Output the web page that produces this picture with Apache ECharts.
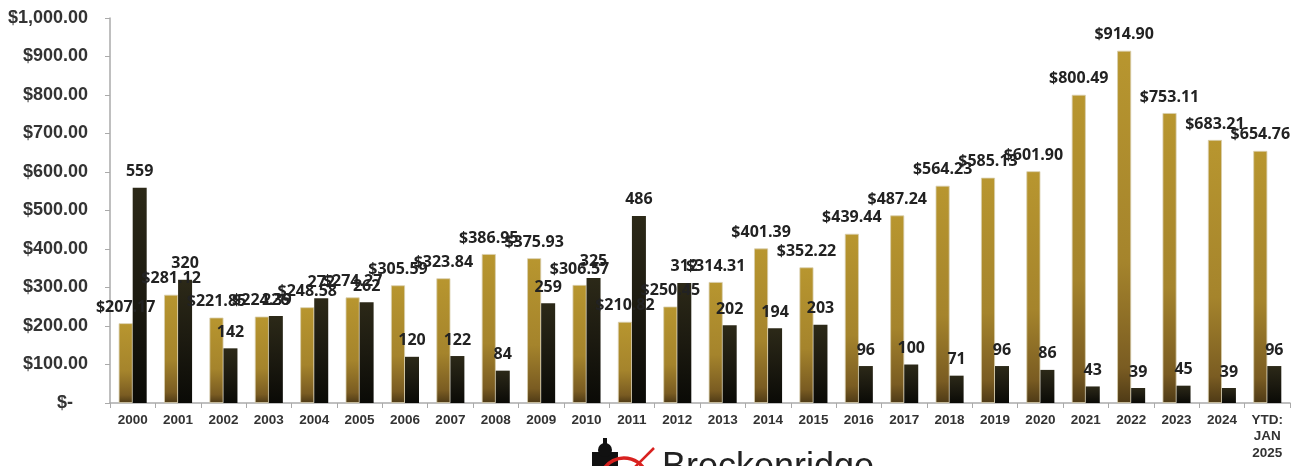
<!DOCTYPE html>
<html>
<head>
<meta charset="utf-8">
<script src="https://cdn.jsdelivr.net/npm/echarts@6/dist/echarts.min.js"></script>
<style>
  html, body { margin: 0; padding: 0; background: #fff; }
  #chart { width: 1303px; height: 466px; }
</style>
</head>
<body>
<div id="chart"></div>
<script>
// yearly price vs. count

var years = ['2000', '2001', '2002', '2003', '2004', '2005', '2006', '2007', '2008', '2009',
  '2010', '2011', '2012', '2013', '2014', '2015', '2016', '2017', '2018', '2019',
  '2020', '2021', '2022', '2023', '2024', 'YTD:\nJAN\n2025'];

var prices = [207.17, 281.12, 221.85, 224.39, 248.58, 274.27, 305.59, 323.84, 386.95, 375.93,
  306.57, 210.82, 250.45, 314.31, 401.39, 352.22, 439.44, 487.24, 564.23, 585.13,
  601.90, 800.49, 914.90, 753.11, 683.21, 654.76];

var counts = [559, 320, 142, 226, 272, 262, 120, 122, 84, 259,
  325, 486, 312, 202, 194, 203, 96, 100, 71, 96,
  86, 43, 39, 45, 39, 96];

var yTicks = [0, 100, 200, 300, 400, 500, 600, 700, 800, 900, 1000];

var dom = document.getElementById('chart');
var myChart = echarts.init(dom);

function money(v) {
  if (v === 0) return '$-   ';
  return '$' + v.toFixed(2).replace(/\B(?=(\d{3})+(?!\d))/g, ',');
}

var labelStyle = {
  show: true,
  position: 'top',
  distance: 8,
  fontFamily: 'Open Sans',
  fontWeight: 'bold',
  fontSize: 16,
  color: '#222'
};

var option = {
  animation: false,
  grid: { left: 110, right: 13, top: 18, bottom: 63 },
  xAxis: {
    type: 'category',
    data: years,
    axisLine: { lineStyle: { color: '#aaa', width: 1.5 } },
    axisTick: { show: true, alignWithLabel: false, length: 5, lineStyle: { color: '#aaa' } },
    axisLabel: {
      interval: 0,
      margin: 9,
      fontFamily: 'Liberation Sans',
      fontWeight: 'bold',
      fontSize: 13.5,
      lineHeight: 16.5,
      color: '#333'
    }
  },
  yAxis: {
    type: 'value',
    min: yTicks[0],
    max: yTicks[yTicks.length - 1],
    interval: 100,
    splitLine: { show: false },
    axisLine: { show: true, lineStyle: { color: '#aaa', width: 1.5 } },
    axisTick: { show: true, inside: false, length: 5, lineStyle: { color: '#aaa' } },
    axisLabel: {
      margin: 22,
      formatter: money,
      fontFamily: 'Liberation Sans',
      fontWeight: 'bold',
      fontSize: 18,
      color: '#333'
    }
  },
  series: [
    {
      name: 'Price',
      type: 'bar',
      data: prices,
      barWidth: 14,
      barGap: '0%',
      itemStyle: {
        borderColor: '#d9cfae',
        borderWidth: 0.8,
        color: new echarts.graphic.LinearGradient(0, 0, 0, 1, [
          { offset: 0, color: '#b8962f' },
          { offset: 0.6, color: '#a5842c' },
          { offset: 0.9, color: '#7a5c22' },
          { offset: 1, color: '#4e3a16' }
        ])
      },
      label: Object.assign({}, labelStyle, { formatter: function (p) { return money(p.value); } })
    },
    {
      name: 'Count',
      type: 'bar',
      data: counts,
      barWidth: 14,
      itemStyle: {
        color: new echarts.graphic.LinearGradient(0, 0, 0, 1, [
          { offset: 0, color: '#2c2918' },
          { offset: 0.5, color: '#1c1a10' },
          { offset: 1, color: '#0a0a06' }
        ])
      },
      label: labelStyle
    }
  ],
  graphic: [
    {
      type: 'group',
      left: 592,
      top: 438,
      children: [
        { type: 'rect', shape: { x: 8, y: 14, width: 26, height: 30 }, style: { fill: '#111' } },
        { type: 'circle', shape: { cx: 21, cy: 12, r: 7 }, style: { fill: '#111' } },
        { type: 'rect', shape: { x: 19, y: 0, width: 4, height: 6 }, style: { fill: '#111' } },
        { type: 'arc', shape: { cx: 40, cy: 44, r: 24, startAngle: Math.PI * 1.1, endAngle: Math.PI * 1.95 }, style: { stroke: '#d8211f', lineWidth: 3.5, fill: null } },
        { type: 'line', shape: { x1: 44, y1: 36, x2: 70, y2: 10 }, style: { stroke: '#d8211f', lineWidth: 2.5 } },
        { type: 'text', x: 78, y: 12, style: { text: 'Breckenridge', font: '36px "Liberation Sans"', fill: '#222' } }
      ]
    }
  ]
};

if (option && typeof option === 'object') {
  myChart.setOption(option);
}
</script>
</body>
</html>
